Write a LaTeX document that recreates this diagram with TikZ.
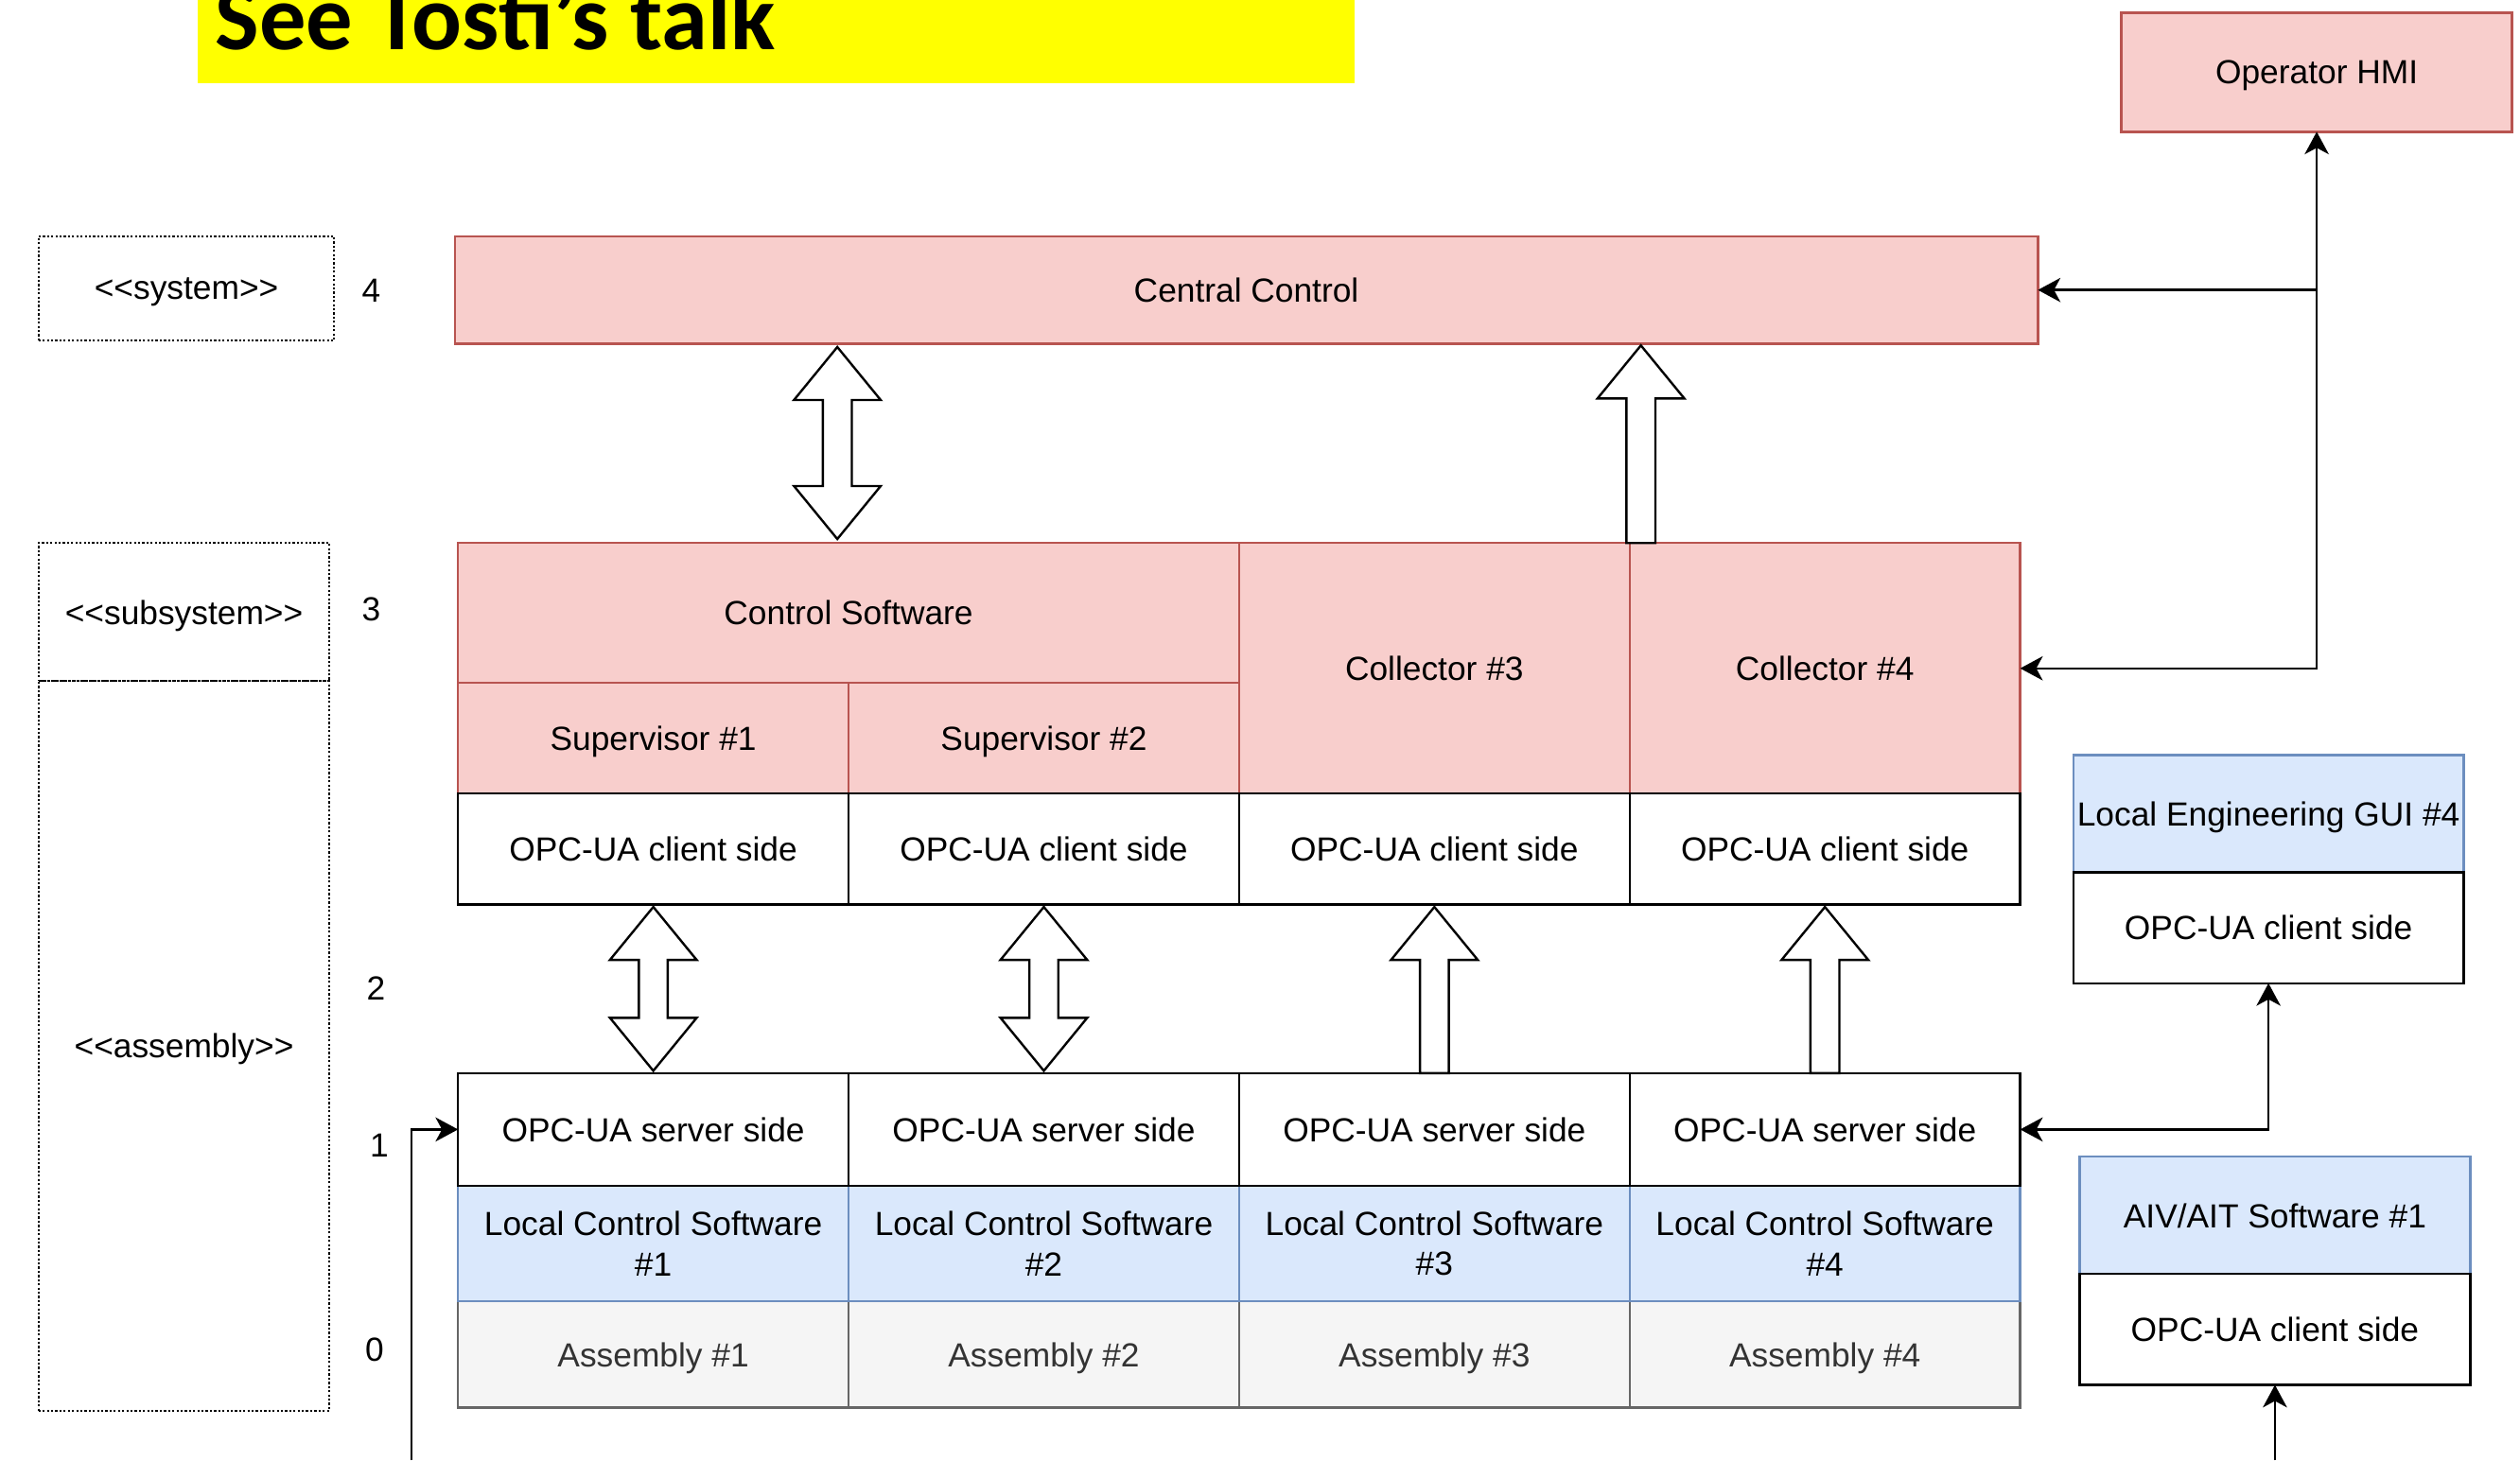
\documentclass[tikz,border=0pt]{standalone}
\usepackage{fontspec}
\setmainfont{Liberation Sans}
\newfontfamily\bannerfont{Carlito}
\usetikzlibrary{arrows.meta,calc}

\definecolor{redfill}{HTML}{F8CECC}
\definecolor{redline}{HTML}{B85450}
\definecolor{bluefill}{HTML}{DAE8FC}
\definecolor{blueline}{HTML}{6C8EBF}
\definecolor{greyfill}{HTML}{F5F5F5}
\definecolor{greyline}{HTML}{666666}
\definecolor{greytext}{HTML}{333333}
\definecolor{bannerfill}{HTML}{FFFF00}

% guillemet-free stereotype brackets
\newcommand\stereoname[1]{<\kern0pt<#1>\kern0pt>}

% two-headed block arrow between an upper tip #1 and a lower tip #2
\newcommand\flowboth[2]{%
  \draw[blockarrow] let \p1=#1, \p2=#2 in
    (\x1,\y1) -- (\x1+27pt,\y1-33pt) -- (\x1+9pt,\y1-33pt) -- (\x1+9pt,\y2+33pt)
    -- (\x1+27pt,\y2+33pt) -- (\x1,\y2) -- (\x1-27pt,\y2+33pt) -- (\x1-9pt,\y2+33pt)
    -- (\x1-9pt,\y1-33pt) -- (\x1-27pt,\y1-33pt) -- cycle;}
% upward block arrow with its tip at #1 and its tail at #2
\newcommand\flowup[2]{%
  \draw[blockarrow] let \p1=#1, \p2=#2 in
    (\x1,\y1) -- (\x1+27pt,\y1-33pt) -- (\x1+9pt,\y1-33pt) -- (\x1+9pt,\y2)
    -- (\x1-9pt,\y2) -- (\x1-9pt,\y1-33pt) -- (\x1-27pt,\y1-33pt) -- cycle;}

\begin{document}
\begin{tikzpicture}[x=1pt,y=-1pt,
  every node/.style={inner sep=0pt, outer sep=0pt, font=\fontsize{20.8}{25}\selectfont},
  cell/.style 2 args={rectangle, minimum width=#1pt, minimum height=#2pt,
    line width=1.4pt, align=center},
  oneline/.style={text depth=0pt},
  redcell/.style={fill=redfill, draw=redline, oneline},
  bluecell/.style={fill=bluefill, draw=blueline},
  greycell/.style={fill=greyfill, draw=greyline, text=greytext, oneline},
  whitecell/.style={fill=white, draw=black, oneline},
  stereo/.style={draw=black, line width=1.2pt, dash pattern=on 1.3pt off 1.3pt, oneline},
  blockarrow/.style={draw=black, fill=white, line width=1.4pt, line join=miter},
  conn/.style={draw=black, line width=1.5pt},
  >={Stealth[length=14pt,width=15pt,inset=4pt]}]

\useasboundingbox (0,0) rectangle (1568,909);

% banner
\node[cell={720}{52}, fill=bannerfill] (banner) at (483,26) {};
\node[anchor=base west, font=\bannerfont\bfseries\fontsize{58}{62}\selectfont]
  (bannertext) at (134,31) {See Tosti’s talk};

% stereotype column
\node[cell={184}{65}, stereo] (sys) at (116,179.5) {\stereoname{system}};
\node[cell={181}{86}, stereo] (subsys) at (114.5,381) {\stereoname{subsystem}};
\node[cell={181}{454}, stereo] (asmlabel) at (114.5,651) {\stereoname{assembly}};

% level numbers
\node (lv4) at (231,181) {4};
\node (lv3) at (231,379) {3};
\node (lv2) at (234,615) {2};
\node (lv1) at (236,713) {1};
\node (lv0) at (233,840) {0};

% system level
\node[cell={985}{67}, redcell] (cc) at (775.5,180.5) {Central Control};
\node[cell={243}{74}, redcell] (hmi) at (1441.5,45) {Operator HMI};

% subsystem level
\node[cell={486}{87}, redcell] (cs) at (528,381.5) {Control Software};
\node[cell={243}{69}, redcell] (sup1) at (406.5,459.5) {Supervisor \#1};
\node[cell={243}{69}, redcell] (sup2) at (649.5,459.5) {Supervisor \#2};
\node[cell={243}{156}, redcell] (col3) at (892.5,416) {Collector \#3};
\node[cell={243}{156}, redcell] (col4) at (1135.5,416) {Collector \#4};

% client sides
\foreach \i/\x in {1/406.5,2/649.5,3/892.5,4/1135.5}
  \node[cell={243}{69}, whitecell] (cli\i) at (\x,528.5) {OPC-UA client side};

% assembly level, bottom up
\foreach \i/\x in {1/406.5,2/649.5,3/892.5,4/1135.5}{
  \node[cell={243}{66}, greycell] (asm\i) at (\x,843) {Assembly \#\i};
  \node[cell={243}{72}, bluecell] (lcs\i) at (\x,774) {Local Control Software\\\#\i};
  \node[cell={243}{70}, whitecell] (srv\i) at (\x,703) {OPC-UA server side};
}

% side clients
\node[cell={243}{73}, bluecell, oneline] (gui) at (1411.5,506.5) {Local Engineering GUI \#4};
\node[cell={243}{69}, whitecell] (guicli) at (1411.5,577.5) {OPC-UA client side};
\node[cell={243}{73}, bluecell, oneline] (aiv) at (1415.5,756.5) {AIV/AIT Software \#1};
\node[cell={243}{69}, whitecell] (aivcli) at (1415.5,827.5) {OPC-UA client side};

% block arrows
\coordinate (csx) at ($(cs.north)+(-7,0)$);
\coordinate (c4x) at ($(col4.north west)+(7,0)$);
\flowboth{($(csx |- cc.south)+(0,2)$)}{($(csx)+(0,-2.5)$)}
\flowup{($(c4x |- cc.south)+(0,1)$)}{(c4x)}
\flowboth{($(cli1.south)+(0,1.5)$)}{($(srv1.north)+(0,-1.5)$)}
\flowboth{($(cli2.south)+(0,1.5)$)}{($(srv2.north)+(0,-1.5)$)}
\flowup{($(cli3.south)+(0,1.5)$)}{(srv3.north)}
\flowup{($(cli4.south)+(0,1.5)$)}{(srv4.north)}

% connectors
\coordinate (bottom) at (0,909);
\coordinate (feedleft) at (256,909);
\draw[conn,<->] (col4.east) -| (hmi.south);
\draw[conn,->] (hmi.south |- cc.east) -- (cc.east);
\draw[conn,<->] (srv4.east) -| (guicli.south);
\draw[conn,->] (aivcli.south |- bottom) -- (aivcli.south);
\draw[conn,->] (feedleft) |- (srv1.west);

\end{tikzpicture}
\end{document}
